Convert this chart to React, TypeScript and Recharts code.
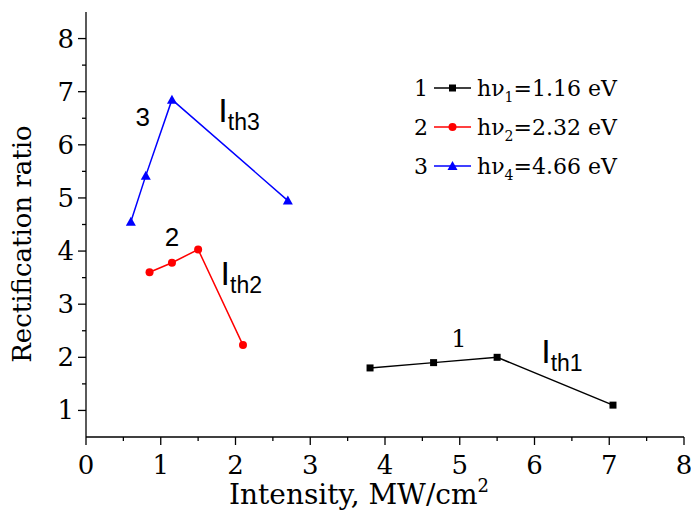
import React from 'react';
import { LineChart, Line, XAxis, YAxis, ReferenceDot, Legend } from 'recharts';

// series 1: hv1 = 1.16 eV
const intensity1 = [3.8, 4.65, 5.5, 7.05];
const ratio1 = [1.8, 1.9, 2.0, 1.1];
// series 2: hv2 = 2.32 eV
const intensity2 = [0.85, 1.15, 1.5, 2.1];
const ratio2 = [3.6, 3.78, 4.03, 2.23];
// series 3: hv4 = 4.66 eV
const intensity3 = [0.6, 0.8, 1.15, 2.7];
const ratio3 = [4.55, 5.42, 6.85, 4.95];

const seriesNums = ['1', '2', '3'];
const photonIdx = ['1', '2', '4'];
const photonEnergy = ['1.16', '2.32', '4.66'];

const xTicks = [0, 0.5, 1, 1.5, 2, 2.5, 3, 3.5, 4, 4.5, 5, 5.5, 6, 6.5, 7, 7.5, 8];
const yTicks = [1, 1.5, 2, 2.5, 3, 3.5, 4, 4.5, 5, 5.5, 6, 6.5, 7, 7.5, 8];

// curve numbers and threshold labels, in data coordinates
const curveNumbers = [
  { text: '3', x: 0.76, y: 6.52 },
  { text: '2', x: 1.15, y: 4.27 },
  { text: '1', x: 4.99, y: 2.36 },
];
const thresholdLabels = [
  { sub: 'th3', x: 1.77, y: 6.65 },
  { sub: 'th2', x: 1.8, y: 3.59 },
  { sub: 'th1', x: 6.09, y: 2.12 },
];

const COLORS = ['#000000', '#ff0000', '#0000ff'];
const SERIF = '"DejaVu Serif", "Liberation Serif", serif';
const SANS = '"Liberation Sans", Arial, sans-serif';

const toPoints = (xs: number[], ys: number[]) => xs.map((x, i) => ({ x, y: ys[i] }));
const data1 = toPoints(intensity1, ratio1);
const data2 = toPoints(intensity2, ratio2);
const data3 = toPoints(intensity3, ratio3);

const Marker = ({ kind, cx, cy, color }: { kind: number; cx: number; cy: number; color: string }) => {
  if (kind === 0) return <rect x={cx - 3.5} y={cy - 3.5} width={7} height={7} fill={color} />;
  if (kind === 1) return <circle cx={cx} cy={cy} r={4} fill={color} />;
  return <polygon points={`${cx},${cy - 5} ${cx - 5},${cy + 4} ${cx + 5},${cy + 4}`} fill={color} />;
};

const dotFor = (kind: number) => (p: any) => (
  <Marker key={`d-${kind}-${p.index}`} kind={kind} cx={p.cx} cy={p.cy} color={COLORS[kind]} />
);

const isMajor = (v: number) => Math.abs(v - Math.round(v)) < 1e-6;

const XTick = (props: any) => {
  const { x, y, payload } = props;
  const major = isMajor(payload.value);
  return (
    <g>
      <line x1={x} y1={y} x2={x} y2={y + (major ? 8 : 4)} stroke="#000" strokeWidth={1.3} />
      {major && (
        <text x={x} y={y + 37} textAnchor="middle" fontFamily={SERIF} fontSize={26} fill="#000">
          {payload.value}
        </text>
      )}
    </g>
  );
};

const YTick = (props: any) => {
  const { x, y, payload } = props;
  const major = isMajor(payload.value);
  return (
    <g>
      <line x1={x - (major ? 8 : 4)} y1={y} x2={x} y2={y} stroke="#000" strokeWidth={1.3} />
      {major && (
        <text x={x - 12} y={y + 9} textAnchor="end" fontFamily={SERIF} fontSize={26} fill="#000">
          {payload.value}
        </text>
      )}
    </g>
  );
};

const renderLegend = () => (
  <svg width={230} height={115}>
    {seriesNums.map((n, i) => {
      const cy = 18 + i * 39;
      return (
        <g key={n}>
          <text x={4} y={cy + 8} fontFamily={SERIF} fontSize={22} fill="#000">{n}</text>
          <line x1={24} y1={cy} x2={61} y2={cy} stroke={COLORS[i]} strokeWidth={1.5} />
          <Marker kind={i} cx={42.5} cy={cy} color={COLORS[i]} />
          <text x={67} y={cy + 8} fontFamily={SERIF} fontSize={22} fill="#000">
            hν
            <tspan fontSize={14} dy={6}>{photonIdx[i]}</tspan>
            <tspan dy={-6}>={photonEnergy[i]} eV</tspan>
          </text>
        </g>
      );
    })}
  </svg>
);

export default function App() {
  return (
    <div style={{ position: 'absolute', left: 0, top: 0, width: 691, height: 521, background: '#fff' }}>
      <LineChart width={691} height={521} margin={{ top: 12, right: 7, bottom: 0, left: 0 }}>
        <XAxis
          type="number"
          dataKey="x"
          domain={[0, 8]}
          ticks={xTicks}
          interval={0}
          allowDataOverflow
          height={84}
          tickSize={0}
          tickMargin={0}
          tickLine={false}
          tick={<XTick />}
          axisLine={{ stroke: '#000', strokeWidth: 1.3 }}
          label={{
            content: (p: any) => {
              const vb = p.viewBox;
              return (
                <text x={vb.x + vb.width / 2 - 26} y={vb.y + 67} textAnchor="middle" fontFamily={SERIF} fontSize={28} fill="#000">
                  Intensity, MW/cm<tspan fontSize={18} dy={-12}>2</tspan>
                </text>
              );
            },
          }}
        />
        <YAxis
          type="number"
          dataKey="y"
          domain={[0.5, 8.5]}
          ticks={yTicks}
          interval={0}
          allowDataOverflow
          width={86}
          tickSize={0}
          tickMargin={0}
          tickLine={false}
          tick={<YTick />}
          axisLine={{ stroke: '#000', strokeWidth: 1.3 }}
          label={{
            content: () => (
              <text
                x={0}
                y={0}
                transform="translate(31, 244) rotate(-90)"
                textAnchor="middle"
                fontFamily={SERIF}
                fontSize={26}
                fill="#000"
              >
                Rectification ratio
              </text>
            ),
          }}
        />
        <Legend
          layout="vertical"
          align="center"
          verticalAlign="middle"
          content={renderLegend}
          wrapperStyle={{ left: 410, top: 70, width: 230, height: 115 }}
        />
        <Line data={data1} dataKey="y" stroke={COLORS[0]} strokeWidth={1.5} dot={dotFor(0)} isAnimationActive={false} />
        <Line data={data2} dataKey="y" stroke={COLORS[1]} strokeWidth={1.5} dot={dotFor(1)} isAnimationActive={false} />
        <Line data={data3} dataKey="y" stroke={COLORS[2]} strokeWidth={1.5} dot={dotFor(2)} isAnimationActive={false} />
        {curveNumbers.map((c) => (
          <ReferenceDot
            key={`n-${c.text}`}
            x={c.x}
            y={c.y}
            r={0}
            shape={(p: any) => (
              <text
                x={p.cx}
                y={p.cy + 9}
                textAnchor="middle"
                fontFamily={c.text === '1' ? SERIF : SANS}
                fontSize={c.text === '1' ? 24 : 26}
                fill="#000"
              >
                {c.text}
              </text>
            )}
          />
        ))}
        {thresholdLabels.map((t) => (
          <ReferenceDot
            key={`t-${t.sub}`}
            x={t.x}
            y={t.y}
            r={0}
            shape={(p: any) => (
              <text x={p.cx} y={p.cy + 12} fontFamily={SANS} fontSize={34} fill="#000">
                I<tspan fontSize={23} dy={8}>{t.sub}</tspan>
              </text>
            )}
          />
        ))}
      </LineChart>
    </div>
  );
}
